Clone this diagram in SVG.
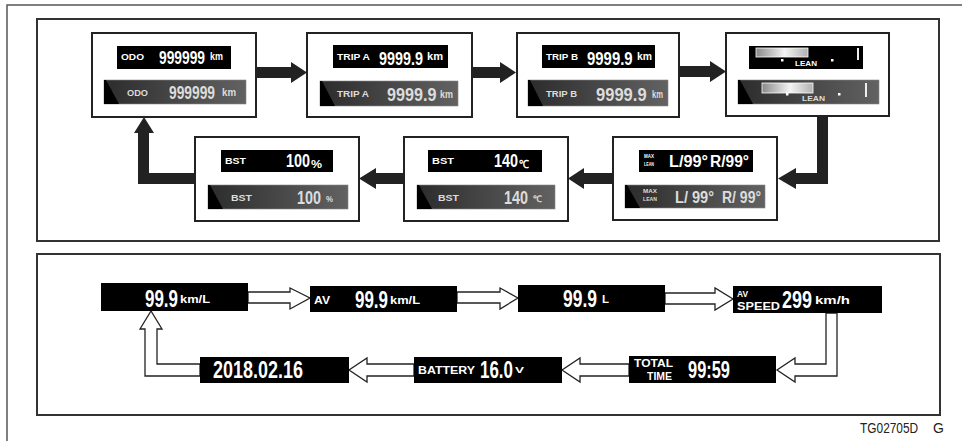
<svg xmlns="http://www.w3.org/2000/svg" width="962" height="441" viewBox="0 0 962 441">
<defs>
<linearGradient id="gg" x1="0" y1="0" x2="1" y2="0">
<stop offset="0" stop-color="#2c2c2c"/>
<stop offset="1" stop-color="#626262"/>
</linearGradient>
<linearGradient id="bar" x1="0" y1="0" x2="1" y2="0">
<stop offset="0" stop-color="#8a8a8a"/>
<stop offset="0.55" stop-color="#f4f4f4"/>
<stop offset="1" stop-color="#b0b0b0"/>
</linearGradient>
<style>
.frame{fill:none;stroke:#555;stroke-width:1.5}
.panel{fill:none;stroke:#333;stroke-width:2}
.node{fill:#fff;stroke:#222;stroke-width:2}
.blk{fill:#000}
.gry{fill:url(#gg);stroke:#888;stroke-width:0.6}
.wedge{fill:#000}
.lbl{font-family:"Liberation Sans",Arial,sans-serif;font-weight:bold;fill:#fff}
.num{font-family:"Liberation Sans",Arial,sans-serif;font-weight:bold;fill:#fff}
.lt{fill:#dcdcdc}
.s9{font-size:9px}
.s10{font-size:10px}
.s11{font-size:11px}
.s18{font-size:18px}
.s23{font-size:23px}
.arr{fill:#222}
.harr{fill:#fff;stroke:#222;stroke-width:1.3;stroke-linejoin:miter}
.barf{fill:url(#bar);stroke:#fff;stroke-width:0.8}
.tick{stroke:#eee;stroke-width:2}
.dot{fill:#fff}
.code{font-family:"Liberation Sans",Arial,sans-serif;font-size:14px;fill:#222}
</style>
</defs>

<g id="frames">
<path class="frame" d="M7 441 V5 H962"/>
<rect class="panel" x="37" y="19" width="902" height="222"/>
<rect class="panel" x="37" y="254" width="903" height="161"/>
</g>

<g id="connectors">
<polygon class="arr" points="256,67 291,67 291,62 307,72.5 291,83 291,78 256,78"/>
<polygon class="arr" points="472,67 500,67 500,62 516,72.5 500,83 500,78 472,78"/>
<polygon class="arr" points="679,66 710,66 710,61 726,71.5 710,82 710,77 679,77"/>
<polygon class="arr" points="817,116 828,116 828,184 796,184 796,189 778,178.5 796,168 796,173 817,173"/>
<polygon class="arr" points="613,173 584,173 584,168 568,178.5 584,189 584,184 613,184"/>
<polygon class="arr" points="404,173 376,173 376,168 359,178.5 376,189 376,184 404,184"/>
<polygon class="arr" points="195,173 149,173 149,133 154,133 144,117 134,133 138,133 138,184 195,184"/>
<polygon class="harr" points="248,292 290,292 290,288 310,298 290,309 290,303 248,303"/>
<polygon class="harr" points="457,292 500,292 500,288 518,298 500,309 500,303 457,303"/>
<polygon class="harr" points="665,293 715,293 715,288 733,299 715,310 715,304 665,304"/>
<polygon class="harr" points="826,313 826,364 795,364 795,358 777,370 795,382 795,376 837,376 837,313"/>
<polygon class="harr" points="629,364 580,364 580,358 562,370 580,382 580,376 629,376"/>
<polygon class="harr" points="414,364 367,364 367,358 349,370 367,382 367,376 414,376"/>
<polygon class="harr" points="200,364 157,364 157,329 162,329 151,311 140,329 145,329 145,376 200,376"/>
</g>

<g id="n-odo">
<rect class="node" x="92" y="33" width="164" height="84"/>
<rect class="blk" x="117" y="46" width="114" height="23"/>
<text class="lbl s9" x="121" y="60" textLength="23" lengthAdjust="spacingAndGlyphs">ODO</text>
<text class="num s18" transform="translate(159 64) scale(0.766 1)">999999</text>
<text class="lbl s10" x="210" y="60" textLength="13" lengthAdjust="spacingAndGlyphs">km</text>
<rect class="gry" x="104" y="80" width="142" height="24"/>
<polygon class="wedge" points="104,80 106,80 119,104 104,104"/>
<text class="lbl lt s9" x="127" y="96" textLength="21" lengthAdjust="spacingAndGlyphs">ODO</text>
<text class="num lt s18" transform="translate(169 99) scale(0.766 1)">999999</text>
<text class="lbl lt s10" x="222" y="96" textLength="14" lengthAdjust="spacingAndGlyphs">km</text>
</g>

<g id="n-tripa">
<rect class="node" x="307" y="33" width="165" height="84"/>
<rect class="blk" x="333" y="45" width="115" height="23"/>
<text class="lbl s9" x="337" y="60" textLength="33" lengthAdjust="spacingAndGlyphs">TRIP A</text>
<text class="num s18" transform="translate(379 65) scale(0.8 1)">9999.9</text>
<text class="lbl s10" x="427" y="60" textLength="16" lengthAdjust="spacingAndGlyphs">km</text>
<rect class="gry" x="320" y="81" width="138" height="25"/>
<polygon class="wedge" points="320,81 322,81 335,106 320,106"/>
<text class="lbl lt s9" x="337" y="97" textLength="32" lengthAdjust="spacingAndGlyphs">TRIP A</text>
<text class="num lt s18" transform="translate(387 101) scale(0.9 1)">9999.9</text>
<text class="lbl lt s10" x="440" y="98" textLength="13" lengthAdjust="spacingAndGlyphs">km</text>
</g>

<g id="n-tripb">
<rect class="node" x="517" y="33" width="162" height="84"/>
<rect class="blk" x="542" y="45" width="113" height="23"/>
<text class="lbl s9" x="546" y="60" textLength="32" lengthAdjust="spacingAndGlyphs">TRIP B</text>
<text class="num s18" transform="translate(587 65) scale(0.83 1)">9999.9</text>
<text class="lbl s10" x="637" y="60" textLength="15" lengthAdjust="spacingAndGlyphs">km</text>
<rect class="gry" x="528" y="80" width="140" height="26"/>
<polygon class="wedge" points="528,80 530,80 543,106 528,106"/>
<text class="lbl lt s9" x="546" y="97" textLength="31" lengthAdjust="spacingAndGlyphs">TRIP B</text>
<text class="num lt s18" transform="translate(596 101) scale(0.92 1)">9999.9</text>
<text class="lbl lt s10" x="652" y="98" textLength="11" lengthAdjust="spacingAndGlyphs">km</text>
</g>

<g id="n-lean">
<rect class="node" x="726" y="33" width="163" height="83"/>
<rect class="blk" x="749" y="46" width="114" height="23"/>
<rect class="barf" x="756" y="48" width="52" height="9"/>
<line class="tick" x1="858" y1="48" x2="858" y2="60"/>
<rect class="dot" x="781" y="59" width="2.5" height="2.5"/>
<rect class="dot" x="831" y="59" width="2.5" height="2.5"/>
<text class="lbl" font-size="7" x="795" y="66" textLength="22" lengthAdjust="spacingAndGlyphs">LEAN</text>
<rect class="gry" x="738" y="80" width="141" height="24"/>
<polygon class="wedge" points="738,80 740,80 753,104 738,104"/>
<rect class="barf" x="762" y="83" width="51" height="10"/>
<line class="tick" x1="866" y1="83" x2="866" y2="97"/>
<rect class="dot" x="786" y="93" width="2.5" height="2.5"/>
<rect class="dot" x="838" y="93" width="2.5" height="2.5"/>
<text class="lbl lt" font-size="7" x="802" y="101" textLength="23" lengthAdjust="spacingAndGlyphs">LEAN</text>
</g>

<g id="n-maxlean">
<rect class="node" x="613" y="137" width="164" height="83"/>
<rect class="blk" x="639" y="150" width="114" height="22"/>
<text class="lbl" font-size="6" x="644" y="158" textLength="10" lengthAdjust="spacingAndGlyphs">MAX</text>
<text class="lbl" font-size="6" x="644" y="166" textLength="10" lengthAdjust="spacingAndGlyphs">LEAN</text>
<text class="lbl" font-size="16" x="669" y="167" textLength="39" lengthAdjust="spacingAndGlyphs">L/99°</text>
<text class="lbl" font-size="16" x="710" y="167" textLength="39" lengthAdjust="spacingAndGlyphs">R/99°</text>
<rect class="gry" x="625" y="185" width="140" height="23"/>
<polygon class="wedge" points="625,185 627,185 640,208 625,208"/>
<text class="lbl lt" font-size="6" x="643" y="193" textLength="14" lengthAdjust="spacingAndGlyphs">MAX</text>
<text class="lbl lt" font-size="6" x="643" y="201" textLength="14" lengthAdjust="spacingAndGlyphs">LEAN</text>
<text class="lbl lt" font-size="16" x="675" y="203" textLength="39" lengthAdjust="spacingAndGlyphs">L/ 99°</text>
<text class="lbl lt" font-size="16" x="722" y="203" textLength="39" lengthAdjust="spacingAndGlyphs">R/ 99°</text>
</g>

<g id="n-bst140">
<rect class="node" x="404" y="137" width="164" height="84"/>
<rect class="blk" x="428" y="150" width="114" height="22"/>
<text class="lbl s9" x="432" y="164" textLength="22" lengthAdjust="spacingAndGlyphs">BST</text>
<text class="num s18" transform="translate(494 167) scale(0.8 1)">140</text>
<text class="lbl s11" x="519" y="168" textLength="10" lengthAdjust="spacingAndGlyphs">℃</text>
<rect class="gry" x="417" y="185" width="138" height="24"/>
<polygon class="wedge" points="417,185 419,185 432,209 417,209"/>
<text class="lbl lt s9" x="438" y="201" textLength="21" lengthAdjust="spacingAndGlyphs">BST</text>
<text class="num lt s18" transform="translate(504 204) scale(0.8 1)">140</text>
<text class="lbl lt s9" x="533" y="202" textLength="9" lengthAdjust="spacingAndGlyphs">℃</text>
</g>

<g id="n-bst100">
<rect class="node" x="195" y="137" width="164" height="84"/>
<rect class="blk" x="221" y="150" width="112" height="22"/>
<text class="lbl s9" x="225" y="164" textLength="21" lengthAdjust="spacingAndGlyphs">BST</text>
<text class="num s18" transform="translate(286 167) scale(0.8 1)">100</text>
<text class="lbl s11" x="311" y="168" textLength="11" lengthAdjust="spacingAndGlyphs">%</text>
<rect class="gry" x="208" y="185" width="140" height="24"/>
<polygon class="wedge" points="208,185 210,185 223,209 208,209"/>
<text class="lbl lt s9" x="231" y="201" textLength="21" lengthAdjust="spacingAndGlyphs">BST</text>
<text class="num lt s18" transform="translate(297 204) scale(0.8 1)">100</text>
<text class="lbl lt s9" x="326" y="202" textLength="7" lengthAdjust="spacingAndGlyphs">%</text>
</g>

<g id="d-fuel">
<rect class="blk" x="101" y="283" width="147" height="28"/>
<text class="num s23" transform="translate(145 307) scale(0.737 1)">99.9</text>
<text class="lbl s10" x="180" y="303" textLength="30" lengthAdjust="spacingAndGlyphs">km/L</text>
</g>

<g id="d-avfuel">
<rect class="blk" x="310" y="286" width="147" height="26"/>
<text class="lbl s10" x="314" y="304" textLength="16" lengthAdjust="spacingAndGlyphs">AV</text>
<text class="num s23" transform="translate(355 308) scale(0.737 1)">99.9</text>
<text class="lbl s10" x="390" y="304" textLength="30" lengthAdjust="spacingAndGlyphs">km/L</text>
</g>

<g id="d-range">
<rect class="blk" x="518" y="285" width="147" height="27"/>
<text class="num s23" transform="translate(563 307) scale(0.76 1)">99.9</text>
<text class="lbl s10" x="602" y="303" textLength="7" lengthAdjust="spacingAndGlyphs">L</text>
</g>

<g id="d-avspeed">
<rect class="blk" x="733" y="286" width="149" height="27"/>
<text class="lbl s9" x="737" y="297" textLength="11" lengthAdjust="spacingAndGlyphs">AV</text>
<text class="lbl s10" x="737" y="310" textLength="43" lengthAdjust="spacingAndGlyphs">SPEED</text>
<text class="num s23" transform="translate(782 308) scale(0.782 1)">299</text>
<text class="lbl s10" x="815" y="304" textLength="35" lengthAdjust="spacingAndGlyphs">km/h</text>
</g>

<g id="d-totaltime">
<rect class="blk" x="629" y="356" width="147" height="27"/>
<text class="lbl s10" x="634" y="367" textLength="39" lengthAdjust="spacingAndGlyphs">TOTAL</text>
<text class="lbl s10" x="647" y="380" textLength="25" lengthAdjust="spacingAndGlyphs">TIME</text>
<text class="num s23" transform="translate(688 378) scale(0.714 1)">99:59</text>
</g>

<g id="d-battery">
<rect class="blk" x="414" y="357" width="148" height="26"/>
<text class="lbl s11" x="418" y="374" textLength="57" lengthAdjust="spacingAndGlyphs">BATTERY</text>
<text class="num s23" transform="translate(480 378) scale(0.737 1)">16.0</text>
<text class="lbl s9" x="515" y="373" textLength="9" lengthAdjust="spacingAndGlyphs">V</text>
</g>

<g id="d-date">
<rect class="blk" x="200" y="357" width="149" height="26"/>
<text class="num s23" transform="translate(213 378) scale(0.782 1)">2018.02.16</text>
</g>

<g id="caption">
<text class="code" transform="translate(860 433) scale(0.85 1)">TG02705D</text>
<text class="code" x="933" y="433">G</text>
</g>
</svg>
